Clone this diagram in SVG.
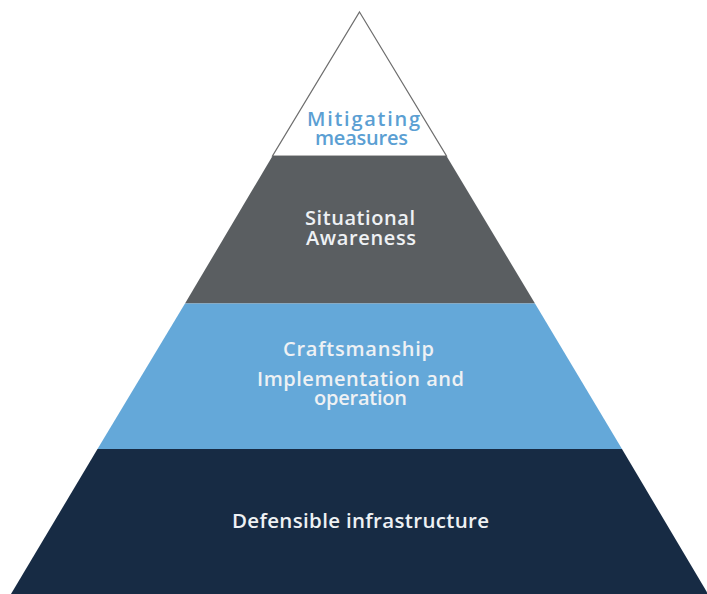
<svg xmlns="http://www.w3.org/2000/svg" width="707" height="594" viewBox="0 0 707 594">
  <style>
    .lbl { font-family: "Open Sans", "DejaVu Sans", sans-serif; font-size: 20px; font-weight: 600; text-anchor: middle; fill: #eef1f4; }
    .lbl-blue { fill: #5b9fd3; }
    .big { font-size: 20.5px; }
  </style>
  <rect width="707" height="594" fill="#ffffff"/>

  <!-- Tier 1: mitigating measures (apex) -->
  <g id="tier-mitigating">
    <polygon points="359.5,12 446.5,156 272.5,156" fill="#ffffff" stroke="#6e6e6e" stroke-width="1.2" stroke-linejoin="miter"/>
    <text class="lbl lbl-blue" x="363.5" y="126" textLength="113" lengthAdjust="spacing">Mitigating</text>
    <text class="lbl lbl-blue" x="361.5" y="145" textLength="93" lengthAdjust="spacing">measures</text>
  </g>

  <!-- Tier 2: situational awareness -->
  <g id="tier-awareness">
    <polygon points="272.5,156 446.5,156 535,303.5 185,303.5" fill="#5a5e61"/>
    <text class="lbl" x="360" y="225" textLength="110" lengthAdjust="spacing">Situational</text>
    <text class="lbl" x="361" y="245" textLength="110" lengthAdjust="spacing">Awareness</text>
  </g>

  <!-- Tier 3: craftsmanship -->
  <g id="tier-craftsmanship">
    <polygon points="185,303.5 535,303.5 622,449 97.5,449" fill="#64a8d9"/>
    <text class="lbl" x="358.5" y="356" textLength="151" lengthAdjust="spacing">Craftsmanship</text>
    <text class="lbl" x="360.5" y="386" textLength="207" lengthAdjust="spacing">Implementation and</text>
    <text class="lbl" x="360.5" y="405" textLength="93" lengthAdjust="spacing">operation</text>
  </g>

  <!-- Tier 4: defensible infrastructure (base) -->
  <g id="tier-infrastructure">
    <polygon points="97.5,449 622,449 708,594 11,594" fill="#172b44"/>
    <text class="lbl big" x="360.5" y="528" textLength="257" lengthAdjust="spacing">Defensible infrastructure</text>
  </g>

  <g id="connectors"/>
</svg>
